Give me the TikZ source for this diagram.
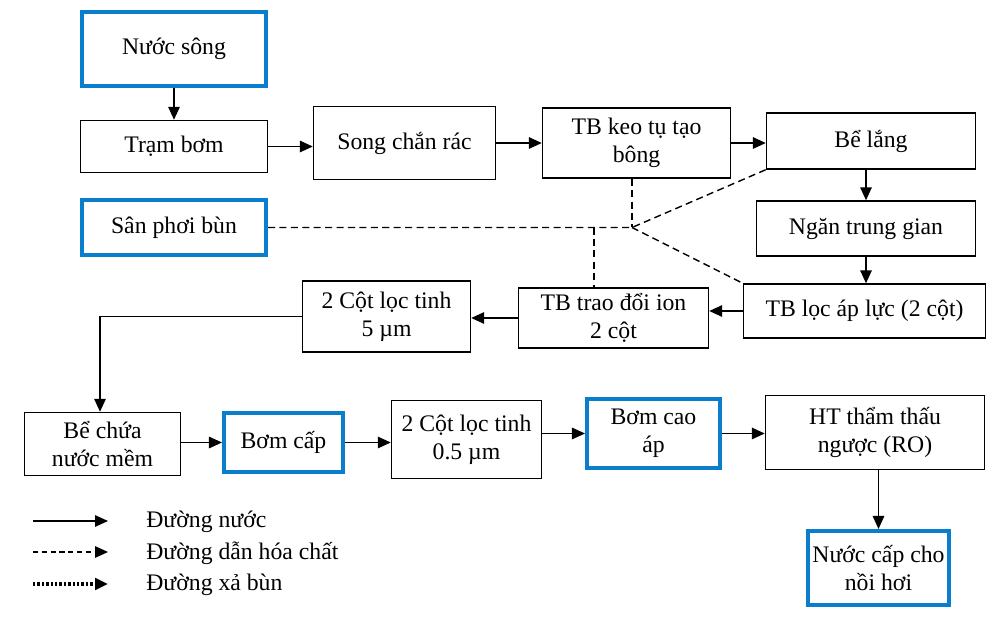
\documentclass[tikz,border=0pt]{standalone}
\usepackage{fontspec}
\setmainfont{Liberation Serif}
\usetikzlibrary{positioning,arrows.meta}
\definecolor{boxblue}{RGB}{8,126,204}

\begin{document}
\begin{tikzpicture}[on grid,
    main node/.style={rectangle,draw,line width=0.8pt,align=center,inner sep=2pt,font=\fontsize{13.5}{16}\selectfont},
    blue node/.style={main node,draw=boxblue,line width=2.3pt},
    flow/.style={-{Triangle[length=2.6mm,width=2.3mm]},line width=0.85pt},
    chem/.style={dash pattern=on 4pt off 2.5pt,line width=0.8pt},
    legend/.style={anchor=west,inner sep=0pt,font=\fontsize{13.5}{16}\selectfont}]
    \useasboundingbox (0,0) rectangle (20,-12.48);

    \node[blue node,minimum width=3.68cm,minimum height=1.48cm] (1) at (3.48,-0.98) {Nước sông};
    \node[main node,minimum width=3.74cm,minimum height=1.04cm] (2) [below = 1.95cm of 1] {Trạm bơm};
    \node[main node,minimum width=3.64cm,minimum height=1.46cm] (3) [above right = 0.07cm and 4.61cm of 2] {Song chắn rác};
    \node[main node,minimum width=3.76cm,minimum height=1.40cm] (4) [right = 4.64cm of 3] {TB keo tụ tạo\\bông};
    \node[main node,minimum width=4.18cm,minimum height=1.12cm] (5) [above right = 0.04cm and 4.69cm of 4] {Bể lắng};
    \node[main node,minimum width=4.38cm,minimum height=1.10cm] (6) [below left = 1.75cm and 0.1cm of 5] {Ngăn trung gian};
    \node[main node,minimum width=4.84cm,minimum height=1.08cm] (7) [below left = 1.65cm and 0.03cm of 6] {TB lọc áp lực (2 cột)};
    \node[main node,minimum width=3.80cm,minimum height=1.20cm] (8) [below left = 0.14cm and 5.02cm of 7] {TB trao đổi ion\\2 cột};
    \node[main node,minimum width=3.36cm,minimum height=1.42cm] (9) [above left = 0.03cm and 4.54cm of 8] {2 Cột lọc tinh\\5 µm};
    \node[blue node,minimum width=3.68cm,minimum height=1.10cm] (10) [below = 1.62cm of 2] {Sân phơi bùn};
    \node[main node,minimum width=3.12cm,minimum height=1.26cm] (11) [below left = 4.33cm and 1.43cm of 10] {Bể chứa\\nước mềm};
    \node[blue node,minimum width=2.38cm,minimum height=1.18cm] (12) [above right = 0.03cm and 3.62cm of 11] {Bơm cấp};
    \node[main node,minimum width=3.00cm,minimum height=1.56cm] (13) [above right = 0.06cm and 3.66cm of 12] {2 Cột lọc tinh\\0.5 µm};
    \node[blue node,minimum width=2.66cm,minimum height=1.38cm] (14) [above right = 0.12cm and 3.74cm of 13] {Bơm cao\\áp};
    \node[main node,minimum width=4.38cm,minimum height=1.48cm] (15) [above right = 0.02cm and 4.43cm of 14] {HT thẩm thấu\\ngược (RO)};
    \node[blue node,minimum width=2.82cm,minimum height=1.48cm] (16) [below right = 2.71cm and 0.07cm of 15] {Nước cấp cho\\nồi hơi};

    \path[flow]
    (1) edge (2)
    (2) edge (2 -| 3.west)
    (3) edge (3 -| 4.west)
    (4) edge (4 -| 5.west)
    (5.south -| 6) edge (6)
    (6) edge (6 |- 7.north)
    (7) edge (7 -| 8.east)
    (8) edge (8 -| 9.east)
    (11.east |- 12) edge (12)
    (12) edge (12 -| 13.west)
    (14 -| 13.east) edge (14)
    (14) edge (14 -| 15.west)
    (16 |- 15.south) edge (16)
    ;
    \draw[flow] (9.west) -| ([xshift=-0.05cm]11.north);

    % chemical lines
    \coordinate (j) at ([xshift=-0.09cm]4.center |- 10.center);
    \coordinate (b) at ([xshift=-0.39cm]8.north |- 10.center);
    \draw[chem] (10) -- (j) -- (5.south west);
    \draw[chem] (j) -- (7.north west);
    \draw[chem] (4.south -| j) -- (j);
    \draw[chem] (b) -- (b |- 8.north);

    % legend
    \node[legend] (17) at (2.92,-10.44) {Đường nước};
    \node[legend] (18) at (2.92,-11.06) {Đường dẫn hóa chất};
    \node[legend] (19) at (2.92,-11.70) {Đường xả bùn};
    \coordinate (a1) at (0.66,-10.42);
    \coordinate (a2) at (0.66,-11.04);
    \coordinate (a3) at (0.66,-11.68);
    \draw[flow] (a1) -- (a1 -| 2.16,0);
    \draw[flow,dash pattern=on 3pt off 2pt] (a2) -- (a2 -| 2.16,0);
    \draw[flow,dash pattern=on 1.4pt off 1.1pt,line width=2pt] (a3) -- (a3 -| 2.16,0);
\end{tikzpicture}
\end{document}
